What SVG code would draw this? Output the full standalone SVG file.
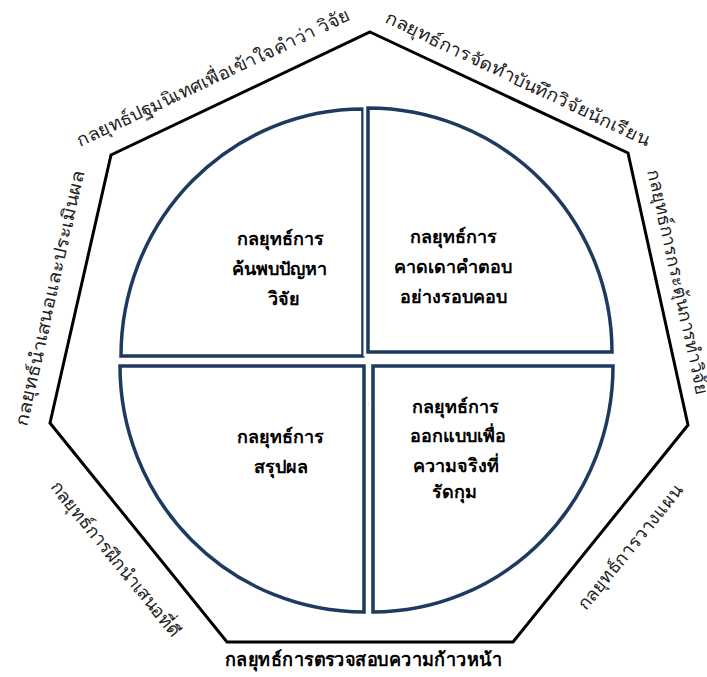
<svg xmlns="http://www.w3.org/2000/svg" width="707" height="677" viewBox="0 0 707 677">
<style>
.frame{fill:#fff;stroke:#000;stroke-width:3;stroke-linejoin:miter}
.edge{font-family:"Noto Sans","DejaVu Sans",sans-serif;font-size:18px;fill:#222;text-anchor:start;dominant-baseline:central}
.bold{font-family:"Noto Sans","DejaVu Sans",sans-serif;font-size:18px;font-weight:bold;fill:#000;text-anchor:middle}
.title{font-family:"Noto Sans","DejaVu Sans",sans-serif;font-size:19px;font-weight:bold;fill:#000;text-anchor:start}
.halo{fill:none;stroke:#fff;stroke-width:9}
.quad{fill:#fff;stroke:#1F3A60;stroke-width:3.5;stroke-linejoin:miter}
.arc{fill:none;stroke:#A8A8A8;stroke-width:4.5;stroke-linecap:round}
</style>
<rect width="707" height="677" fill="#fff"/>
<g id="frame">
<polygon class="frame" points="370,32 628,153 688,425 513,642 227,642 50,423 111,155"/>
</g>
<g id="edge-labels">
<g id="label-orientation"><text class="edge" x="-150" y="0" transform="translate(213,77) rotate(-25.2)" textLength="300" lengthAdjust="spacingAndGlyphs">กลยุทธ์ปฐมนิเทศเพื่อเข้าใจคำว่า วิจัย</text></g>
<g id="label-notes"><text class="edge" x="-145" y="0" transform="translate(518,78) rotate(25.3)" textLength="290" lengthAdjust="spacingAndGlyphs">กลยุทธ์การจัดทำบันทึกวิจัยนักเรียน</text></g>
<g id="label-stimulate"><text class="edge" x="-115" y="0" transform="translate(679,282) rotate(77.6)" textLength="230" lengthAdjust="spacingAndGlyphs">กลยุทธ์การกระตุ้นการทำวิจัย</text></g>
<g id="label-present-eval"><text class="edge" x="-131" y="0" transform="translate(49,298) rotate(-77.2)" textLength="262" lengthAdjust="spacingAndGlyphs">กลยุทธ์นำเสนอและประเมินผล</text></g>
<g id="label-practice"><text class="edge" x="-97" y="0" transform="translate(116,558) rotate(51)" textLength="195" lengthAdjust="spacingAndGlyphs">กลยุทธ์การฝึกนำเสนอที่ดี</text></g>
<g id="label-plan"><text class="edge" x="-77" y="0" transform="translate(629,547) rotate(-51.1)" textLength="155" lengthAdjust="spacingAndGlyphs">กลยุทธ์การวางแผน</text></g>
<g id="label-progress"><text class="title" x="225" y="666" textLength="277" lengthAdjust="spacingAndGlyphs">กลยุทธ์การตรวจสอบความก้าวหน้า</text></g>
</g>
<g id="connectors">
<path class="arc" d="M335,343 A35,35 0 0 1 402,342"/>
<path class="arc" d="M335,380 A35,35 0 0 0 402,380"/>
</g>
<g id="quad-problem">
<path class="halo" d="M363,356 H121 A242,247 0 0 1 363,109 Z"/>
<path class="quad" d="M363,356 H121 A242,247 0 0 1 363,109 Z"/>
<text class="bold" x="280" y="245">กลยุทธ์การ</text>
<text class="bold" x="279" y="275">ค้นพบปัญหา</text>
<text class="bold" x="284" y="305">วิจัย</text>
</g>
<g id="quad-hypothesis">
<path class="halo" d="M368,352 V108 A244,244 0 0 1 612,352 Z"/>
<path class="quad" d="M368,352 V108 A244,244 0 0 1 612,352 Z"/>
<text class="bold" x="453" y="243">กลยุทธ์การ</text>
<text class="bold" x="453" y="273">คาดเดาคำตอบ</text>
<text class="bold" x="453" y="303">อย่างรอบคอบ</text>
</g>
<g id="quad-conclude">
<path class="halo" d="M364,366 H120 A244,246 0 0 0 364,612 Z"/>
<path class="quad" d="M364,366 H120 A244,246 0 0 0 364,612 Z"/>
<text class="bold" x="280" y="443">กลยุทธ์การ</text>
<text class="bold" x="281" y="473">สรุปผล</text>
</g>
<g id="quad-design">
<path class="halo" d="M373,366 H613 A240,246 0 0 1 373,612 Z"/>
<path class="quad" d="M373,366 H613 A240,246 0 0 1 373,612 Z"/>
<text class="bold" x="455" y="413">กลยุทธ์การ</text>
<text class="bold" x="458" y="442">ออกแบบเพื่อ</text>
<text class="bold" x="456" y="472">ความจริงที่</text>
<text class="bold" x="454" y="498">รัดกุม</text>
</g>
</svg>
